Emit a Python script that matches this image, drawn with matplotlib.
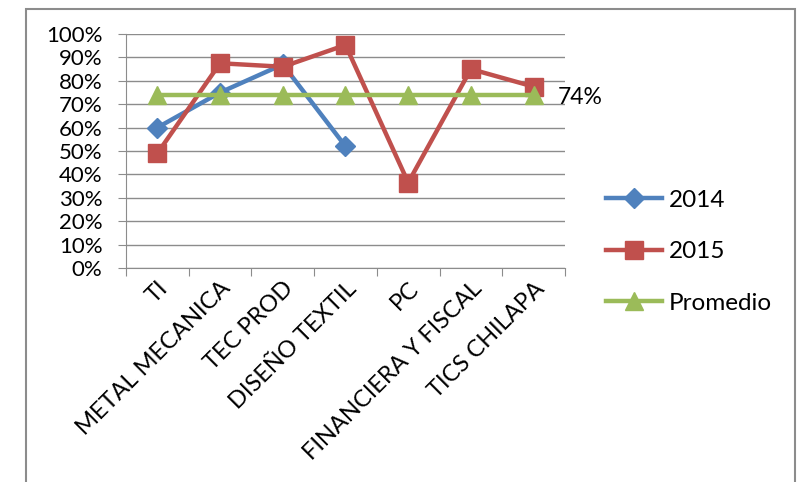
import numpy as np
import matplotlib
matplotlib.use("Agg")
import matplotlib.pyplot as plt
from matplotlib.patches import Rectangle
from matplotlib.ticker import FuncFormatter, MultipleLocator

plt.rcParams['font.family'] = ['Lato', 'DejaVu Sans']

categories = ["TI", "METAL MECANICA", "TEC PROD", "DISEÑO TEXTIL", "PC",
              "FINANCIERA Y FISCAL", "TICS CHILAPA"]
s2014 = [0.60, 0.75, 0.87, 0.52, np.nan, np.nan, np.nan]
s2015 = [0.49, 0.875, 0.86, 0.953, 0.365, 0.85, 0.775]
promedio = [0.74] * 7
series_names = ["2014", "2015", "Promedio"]
colors = ["#4F81BD", "#C0504D", "#9BBB59"]

fig = plt.figure(figsize=(8.04, 4.82), dpi=100)
ax = fig.add_axes([126/804, 1-268/482, (565-126)/804, (268-34)/482])

x = np.arange(len(categories))
ax.plot(x, s2014, color=colors[0], lw=3.2, marker='D', ms=10, label=series_names[0], zorder=3)
ax.plot(x, s2015, color=colors[1], lw=3.2, marker='s', ms=13, label=series_names[1], zorder=4)
ax.plot(x, promedio, color=colors[2], lw=3.2, marker='^', ms=13, label=series_names[2], zorder=5)

ax.annotate(f"{promedio[-1]*100:.0f}%", xy=(x[-1], promedio[-1]), xytext=(17, -2),
            textcoords='offset points', va='center', ha='left', fontsize=16.5)

ax.set_xlim(-0.5, len(categories) - 0.5)
ax.set_ylim(0, 1.0)
ax.yaxis.set_major_locator(MultipleLocator(0.1))
ax.yaxis.set_major_formatter(FuncFormatter(lambda v, p: f"{v*100:.0f}%"))
ax.grid(axis='y', color='#8c8c8c', lw=1.0)
ax.set_axisbelow(True)
for s in ['top', 'right']:
    ax.spines[s].set_visible(False)
for s in ['left', 'bottom']:
    ax.spines[s].set_color('#8c8c8c')
ax.tick_params(axis='y', length=6, color='#8c8c8c', labelsize=16, pad=11)
ax.set_xticks(np.arange(-0.5, len(categories), 1.0))
ax.set_xticklabels([])
ax.set_xticks(x, minor=True)
ax.set_xticklabels(categories, minor=True, rotation=45, ha='right', va='top',
                   rotation_mode='anchor', fontsize=17)
ax.tick_params(axis='x', which='major', length=6, color='#8c8c8c', direction='out')
ax.tick_params(axis='x', which='minor', length=0, pad=7)

leg = fig.legend(loc='upper left', bbox_to_anchor=(584/804, 1-168/482), frameon=False,
                 fontsize=17.5, handlelength=2.3, labelspacing=1.25, handletextpad=0.3)

fig.patches.append(Rectangle((26/804, -0.1), (795-26)/804, 1.1 - 9/482,
                             transform=fig.transFigure, fill=False,
                             edgecolor='#8c8c8c', lw=1.5))

fig.savefig("out.png", dpi=100)
